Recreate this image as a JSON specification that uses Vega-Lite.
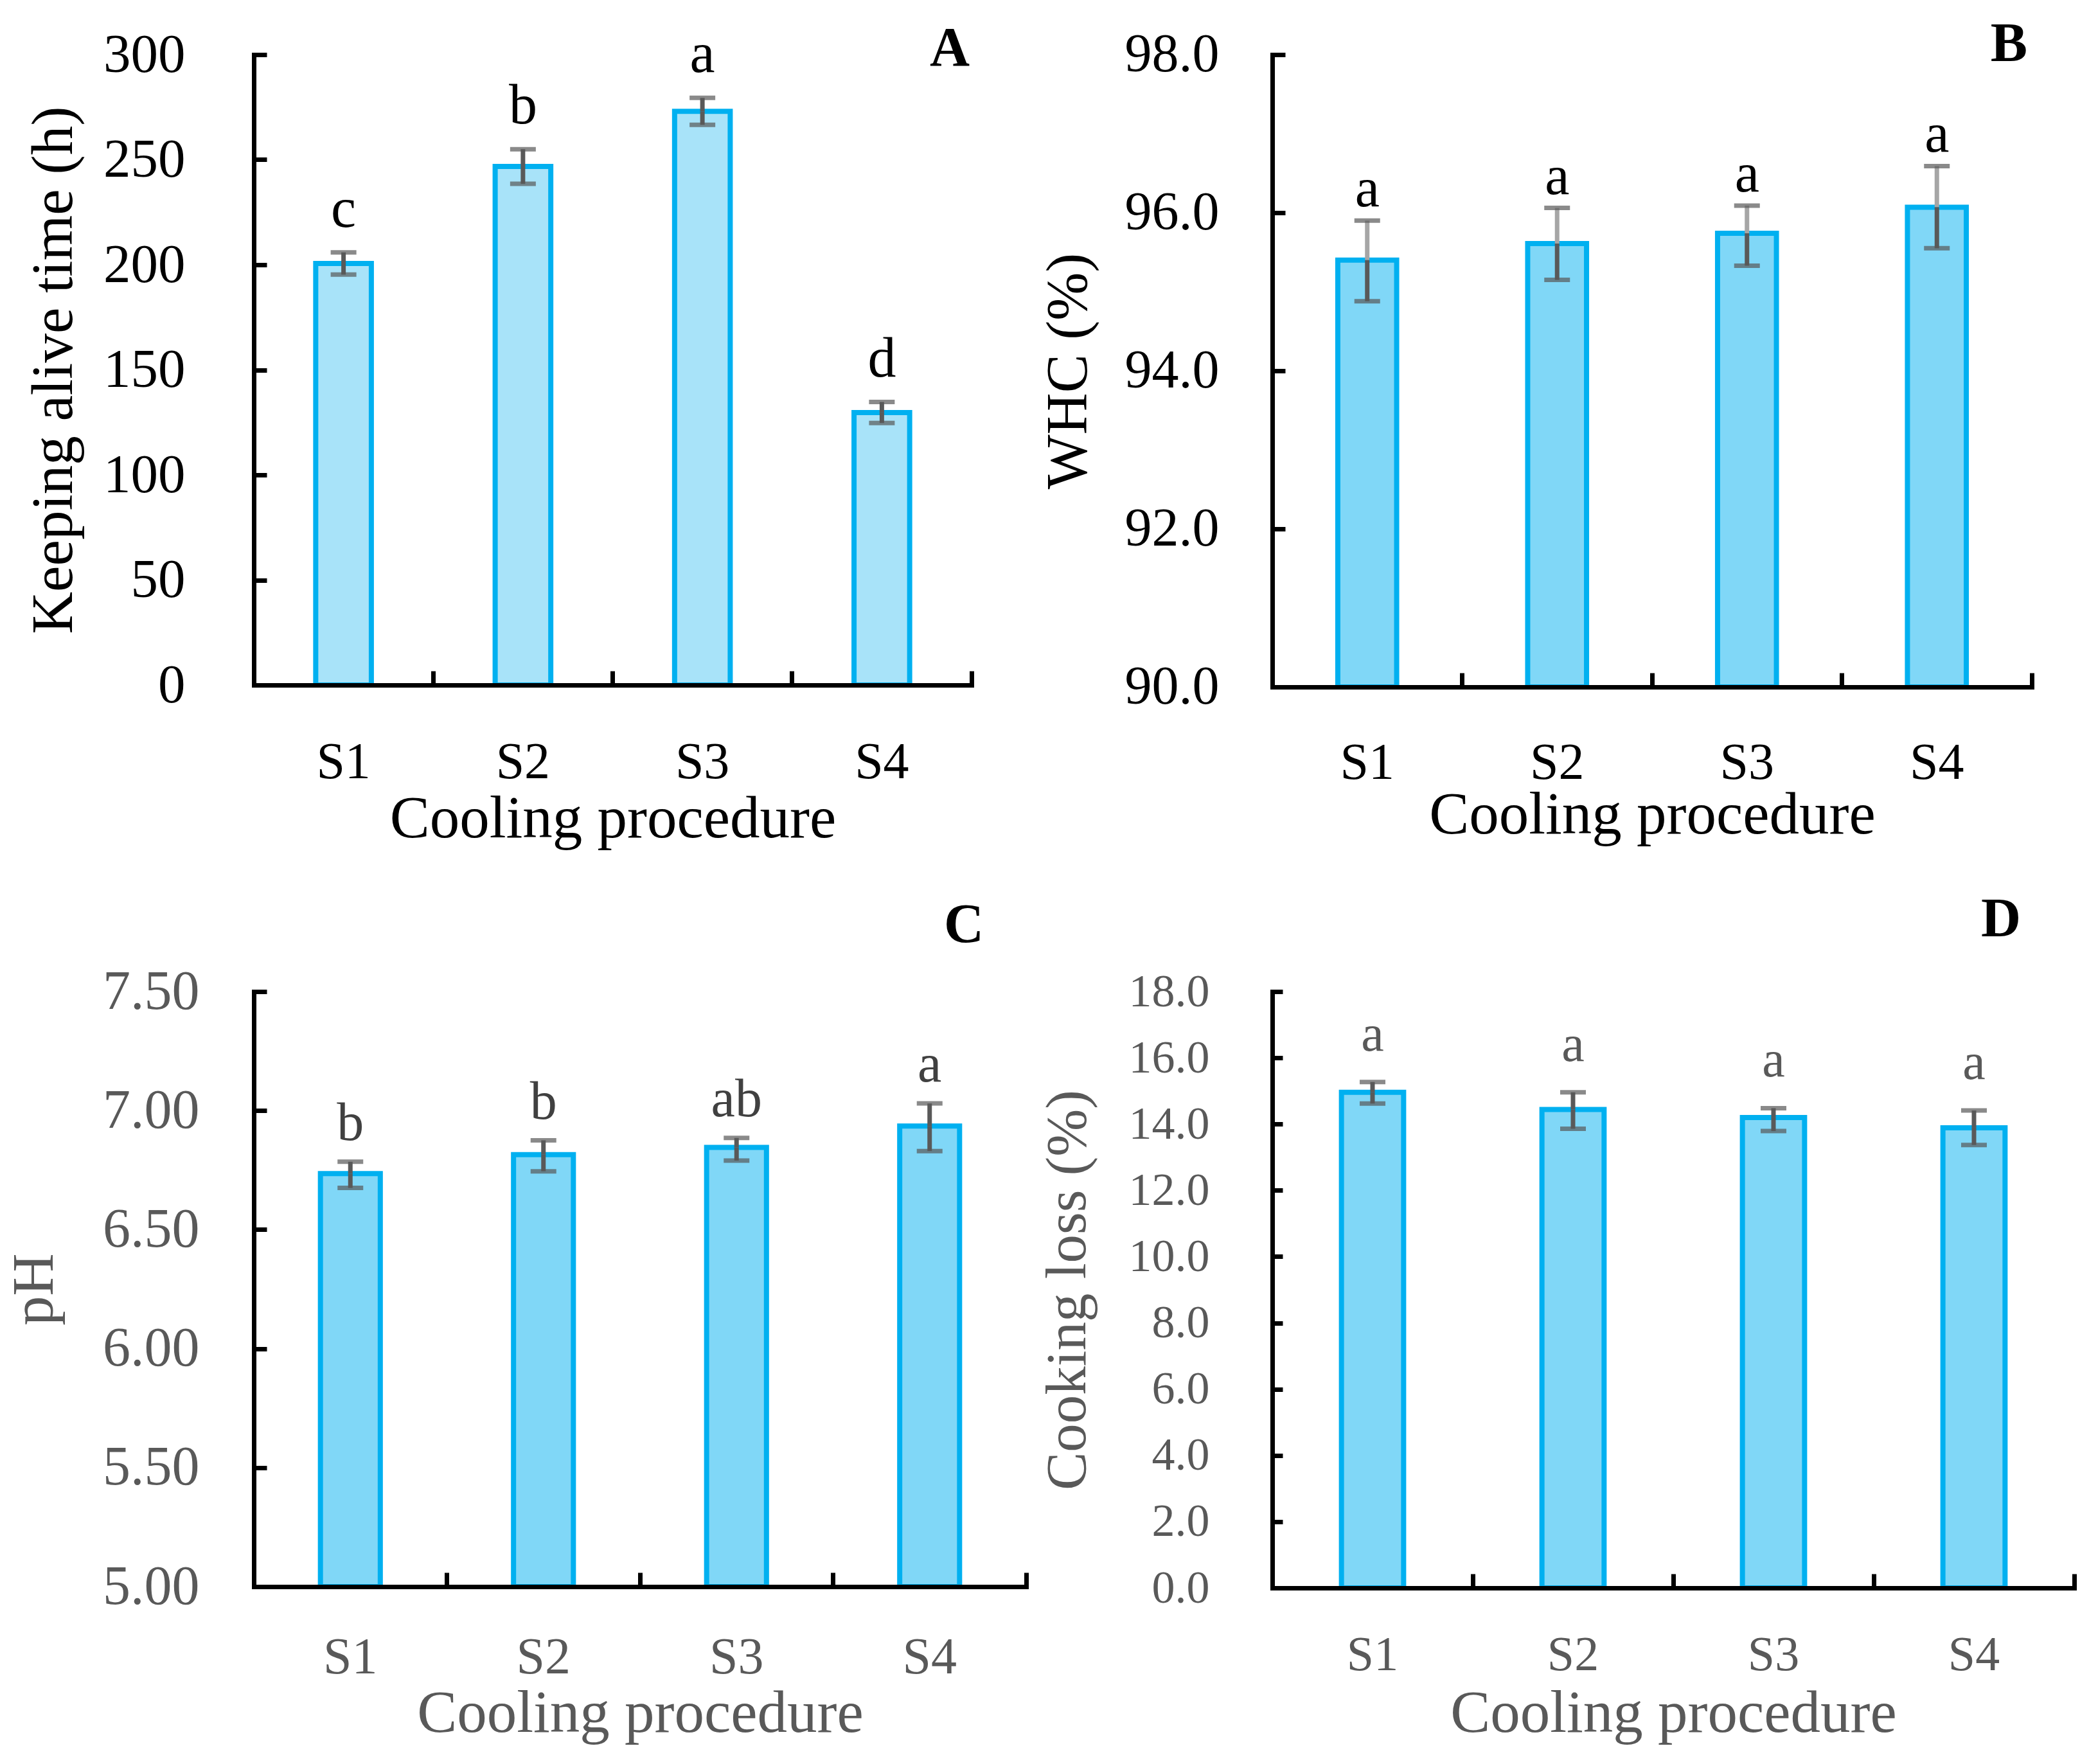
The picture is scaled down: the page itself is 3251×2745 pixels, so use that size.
{
  "$schema": "https://vega.github.io/schema/vega-lite/v6.json",
  "background": "white",
  "padding": {"left": 7, "top": 26, "right": 10, "bottom": 10},
  "config": {
    "view": {"stroke": null},
    "font": "Liberation Serif",
    "axis": {"grid": false, "labelFont": "Liberation Serif", "titleFont": "Liberation Serif"},
    "title": {"font": "Liberation Serif"},
    "text": {"font": "Liberation Serif"}
  },
  "datasets": {
    "A": [
      {"procedure": "S1", "mean": 200.6, "lower": 195.3, "upper": 205.9, "letter": "c"},
      {"procedure": "S2", "mean": 246.8, "lower": 238.5, "upper": 255.0, "letter": "b"},
      {"procedure": "S3", "mean": 273.0, "lower": 266.6, "upper": 279.4, "letter": "a"},
      {"procedure": "S4", "mean": 129.7, "lower": 124.7, "upper": 134.7, "letter": "d"}
    ],
    "B": [
      {"procedure": "S1", "mean": 95.40, "lower": 94.88, "upper": 95.90, "letter": "a"},
      {"procedure": "S2", "mean": 95.61, "lower": 95.15, "upper": 96.06, "letter": "a"},
      {"procedure": "S3", "mean": 95.74, "lower": 95.33, "upper": 96.09, "letter": "a"},
      {"procedure": "S4", "mean": 96.07, "lower": 95.55, "upper": 96.59, "letter": "a"}
    ],
    "C": [
      {"procedure": "S1", "mean": 6.735, "lower": 6.675, "upper": 6.785, "letter": "b"},
      {"procedure": "S2", "mean": 6.815, "lower": 6.745, "upper": 6.875, "letter": "b"},
      {"procedure": "S3", "mean": 6.845, "lower": 6.79, "upper": 6.885, "letter": "ab"},
      {"procedure": "S4", "mean": 6.935, "lower": 6.83, "upper": 7.03, "letter": "a"}
    ],
    "D": [
      {"procedure": "S1", "mean": 14.96, "lower": 14.62, "upper": 15.27, "letter": "a"},
      {"procedure": "S2", "mean": 14.44, "lower": 13.86, "upper": 14.96, "letter": "a"},
      {"procedure": "S3", "mean": 14.20, "lower": 13.79, "upper": 14.48, "letter": "a"},
      {"procedure": "S4", "mean": 13.89, "lower": 13.37, "upper": 14.41, "letter": "a"}
    ]
  },
  "columns": 2,
  "align": "each",
  "bounds": "flush",
  "spacing": {"row": 474, "column": 383},
  "concat": [
    {
      "width": 1117,
      "height": 981,
      "title": {"text": "A", "anchor": "end", "frame": "group", "fontSize": 86, "fontWeight": "bold", "color": "black", "baseline": "alphabetic", "offset": -146, "dx": -3},
      "data": {"name": "A"},
      "resolve": {"axis": {"x": "independent", "y": "independent"}},
      "layer": [
        {
          "mark": {"type": "bar", "fill": "#A8E3F9", "stroke": "#00B0F0", "strokeWidth": 8, "width": {"band": 0.31}},
          "encoding": {
            "x": {"field": "procedure", "type": "nominal", "sort": null, "scale": {"type": "band", "paddingInner": 0, "paddingOuter": 0},
              "axis": {"orient": "bottom", "zindex": 1, "ticks": false, "domain": true, "domainColor": "black", "domainWidth": 7, "domainCap": "square", "labelAngle": 0, "labelFontSize": 80, "labelColor": "black", "labelBaseline": "alphabetic", "labelPadding": 144, "minExtent": 160, "maxExtent": 160, "title": "Cooling procedure", "titleFontSize": 93, "titleFontWeight": "normal", "titleColor": "black", "titleBaseline": "alphabetic", "titlePadding": 76}},
            "y": {"field": "mean", "type": "quantitative", "scale": {"domain": [0, 300], "nice": false, "zero": false},
              "axis": {"orient": "left", "zindex": 1, "values": [0, 50, 100, 150, 200, 250, 300], "format": "d", "ticks": false, "domain": true, "domainColor": "black", "domainWidth": 7, "domainCap": "square", "labelFontSize": 85, "labelColor": "black", "labelPadding": 107, "labelOverlap": false, "minExtent": 235, "maxExtent": 235, "title": "Keeping alive time (h)", "titleFontSize": 91, "titleFontWeight": "normal", "titleColor": "black", "titleBaseline": "alphabetic", "titlePadding": 49}}
          }
        },
        {
          "mark": {"type": "rule", "color": "#595959", "strokeWidth": 7},
          "encoding": {
            "x": {"field": "procedure", "type": "nominal", "sort": null, "scale": {"type": "band", "paddingInner": 0, "paddingOuter": 0},
              "axis": {"orient": "bottom", "zindex": 1, "bandPosition": 1, "labels": false, "domain": false, "ticks": true, "tickSize": -22, "tickWidth": 7, "tickColor": "black", "title": null}},
            "y": {"field": "mean", "type": "quantitative", "scale": {"domain": [0, 300], "nice": false, "zero": false},
              "axis": {"orient": "left", "zindex": 1, "values": [0, 50, 100, 150, 200, 250, 300], "labels": false, "domain": false, "ticks": true, "tickSize": -20, "tickWidth": 7, "tickColor": "black", "title": null}},
            "y2": {"field": "upper"}
          }
        },
        {
          "mark": {"type": "rule", "color": "#595959", "strokeWidth": 7},
          "encoding": {
            "x": {"field": "procedure", "type": "nominal", "sort": null, "scale": {"type": "band", "paddingInner": 0, "paddingOuter": 0}, "axis": null},
            "y": {"field": "lower", "type": "quantitative", "scale": {"domain": [0, 300], "nice": false, "zero": false}, "axis": null},
            "y2": {"field": "mean"}
          }
        },
        {
          "mark": {"type": "tick", "color": "#595959", "thickness": 7, "size": 40},
          "encoding": {
            "x": {"field": "procedure", "type": "nominal", "sort": null, "scale": {"type": "band", "paddingInner": 0, "paddingOuter": 0}, "axis": null},
            "y": {"field": "upper", "type": "quantitative", "scale": {"domain": [0, 300], "nice": false, "zero": false}, "axis": null}
          }
        },
        {
          "mark": {"type": "tick", "color": "#595959", "thickness": 7, "size": 40},
          "encoding": {
            "x": {"field": "procedure", "type": "nominal", "sort": null, "scale": {"type": "band", "paddingInner": 0, "paddingOuter": 0}, "axis": null},
            "y": {"field": "lower", "type": "quantitative", "scale": {"domain": [0, 300], "nice": false, "zero": false}, "axis": null}
          }
        },
        {
          "mark": {"type": "text", "baseline": "alphabetic", "dy": -40, "fontSize": 88, "color": "black"},
          "encoding": {
            "x": {"field": "procedure", "type": "nominal", "sort": null, "scale": {"type": "band", "paddingInner": 0, "paddingOuter": 0}, "axis": null},
            "y": {"field": "upper", "type": "quantitative", "scale": {"domain": [0, 300], "nice": false, "zero": false}, "axis": null},
            "text": {"field": "letter"}
          }
        }
      ]
    },
    {
      "width": 1182,
      "height": 984,
      "title": {"text": "B", "anchor": "end", "frame": "group", "fontSize": 86, "fontWeight": "bold", "color": "black", "baseline": "alphabetic", "offset": -138, "dx": -7},
      "data": {"name": "B"},
      "resolve": {"axis": {"x": "independent", "y": "independent"}},
      "layer": [
        {
          "mark": {"type": "bar", "fill": "#80D7F7", "stroke": "#00B0F0", "strokeWidth": 8, "width": {"band": 0.31}},
          "encoding": {
            "x": {"field": "procedure", "type": "nominal", "sort": null, "scale": {"type": "band", "paddingInner": 0, "paddingOuter": 0},
              "axis": {"orient": "bottom", "zindex": 1, "ticks": false, "domain": true, "domainColor": "black", "domainWidth": 7, "domainCap": "square", "labelAngle": 0, "labelFontSize": 80, "labelColor": "black", "labelBaseline": "alphabetic", "labelPadding": 142, "minExtent": 160, "maxExtent": 160, "title": "Cooling procedure", "titleFontSize": 93, "titleFontWeight": "normal", "titleColor": "black", "titleBaseline": "alphabetic", "titlePadding": 67}},
            "y": {"field": "mean", "type": "quantitative", "scale": {"domain": [90, 98], "nice": false, "zero": false},
              "axis": {"orient": "left", "zindex": 1, "values": [90, 92, 94, 96, 98], "format": ".1f", "ticks": false, "domain": true, "domainColor": "black", "domainWidth": 7, "domainCap": "square", "labelFontSize": 84, "labelColor": "black", "labelPadding": 83, "labelOverlap": false, "minExtent": 230, "maxExtent": 230, "title": "WHC (%)", "titleFontSize": 90, "titleFontWeight": "normal", "titleColor": "black", "titleBaseline": "alphabetic", "titlePadding": 60}},
            "y2": {"datum": 90}
          }
        },
        {
          "mark": {"type": "rule", "color": "#A6A6A6", "strokeWidth": 7},
          "encoding": {
            "x": {"field": "procedure", "type": "nominal", "sort": null, "scale": {"type": "band", "paddingInner": 0, "paddingOuter": 0},
              "axis": {"orient": "bottom", "zindex": 1, "bandPosition": 1, "labels": false, "domain": false, "ticks": true, "tickSize": -22, "tickWidth": 7, "tickColor": "black", "title": null}},
            "y": {"field": "mean", "type": "quantitative", "scale": {"domain": [90, 98], "nice": false, "zero": false},
              "axis": {"orient": "left", "zindex": 1, "values": [90, 92, 94, 96, 98], "labels": false, "domain": false, "ticks": true, "tickSize": -20, "tickWidth": 7, "tickColor": "black", "title": null}},
            "y2": {"field": "upper"}
          }
        },
        {
          "mark": {"type": "rule", "color": "#595959", "strokeWidth": 7},
          "encoding": {
            "x": {"field": "procedure", "type": "nominal", "sort": null, "scale": {"type": "band", "paddingInner": 0, "paddingOuter": 0}, "axis": null},
            "y": {"field": "lower", "type": "quantitative", "scale": {"domain": [90, 98], "nice": false, "zero": false}, "axis": null},
            "y2": {"field": "mean"}
          }
        },
        {
          "mark": {"type": "tick", "color": "#595959", "thickness": 7, "size": 40},
          "encoding": {
            "x": {"field": "procedure", "type": "nominal", "sort": null, "scale": {"type": "band", "paddingInner": 0, "paddingOuter": 0}, "axis": null},
            "y": {"field": "upper", "type": "quantitative", "scale": {"domain": [90, 98], "nice": false, "zero": false}, "axis": null}
          }
        },
        {
          "mark": {"type": "tick", "color": "#595959", "thickness": 7, "size": 40},
          "encoding": {
            "x": {"field": "procedure", "type": "nominal", "sort": null, "scale": {"type": "band", "paddingInner": 0, "paddingOuter": 0}, "axis": null},
            "y": {"field": "lower", "type": "quantitative", "scale": {"domain": [90, 98], "nice": false, "zero": false}, "axis": null}
          }
        },
        {
          "mark": {"type": "text", "baseline": "alphabetic", "dy": -22, "fontSize": 86, "color": "black"},
          "encoding": {
            "x": {"field": "procedure", "type": "nominal", "sort": null, "scale": {"type": "band", "paddingInner": 0, "paddingOuter": 0}, "axis": null},
            "y": {"field": "upper", "type": "quantitative", "scale": {"domain": [90, 98], "nice": false, "zero": false}, "axis": null},
            "text": {"field": "letter"}
          }
        }
      ]
    },
    {
      "width": 1202,
      "height": 926,
      "title": {"text": "C", "anchor": "end", "frame": "group", "fontSize": 86, "fontWeight": "bold", "color": "black", "baseline": "alphabetic", "offset": -52, "dx": -66},
      "data": {"name": "C"},
      "resolve": {"axis": {"x": "independent", "y": "independent"}},
      "layer": [
        {
          "mark": {"type": "bar", "fill": "#80D7F7", "stroke": "#00B0F0", "strokeWidth": 8, "width": {"band": 0.31}},
          "encoding": {
            "x": {"field": "procedure", "type": "nominal", "sort": null, "scale": {"type": "band", "paddingInner": 0, "paddingOuter": 0},
              "axis": {"orient": "bottom", "zindex": 1, "ticks": false, "domain": true, "domainColor": "black", "domainWidth": 7, "domainCap": "square", "labelAngle": 0, "labelFontSize": 80, "labelColor": "#595959", "labelBaseline": "alphabetic", "labelPadding": 134, "minExtent": 160, "maxExtent": 160, "title": "Cooling procedure", "titleFontSize": 93, "titleFontWeight": "normal", "titleColor": "#595959", "titleBaseline": "alphabetic", "titlePadding": 65}},
            "y": {"field": "mean", "type": "quantitative", "scale": {"domain": [5, 7.5], "nice": false, "zero": false},
              "axis": {"orient": "left", "zindex": 1, "values": [5, 5.5, 6, 6.5, 7, 7.5], "format": ".2f", "ticks": false, "domain": true, "domainColor": "black", "domainWidth": 7, "domainCap": "square", "labelFontSize": 86, "labelColor": "#595959", "labelPadding": 85, "labelOverlap": false, "minExtent": 235, "maxExtent": 235, "title": "pH", "titleFontSize": 92, "titleFontWeight": "normal", "titleColor": "#595959", "titleBaseline": "alphabetic", "titlePadding": 79}},
            "y2": {"datum": 5}
          }
        },
        {
          "mark": {"type": "rule", "color": "#595959", "strokeWidth": 7},
          "encoding": {
            "x": {"field": "procedure", "type": "nominal", "sort": null, "scale": {"type": "band", "paddingInner": 0, "paddingOuter": 0},
              "axis": {"orient": "bottom", "zindex": 1, "bandPosition": 1, "labels": false, "domain": false, "ticks": true, "tickSize": -22, "tickWidth": 7, "tickColor": "black", "title": null}},
            "y": {"field": "mean", "type": "quantitative", "scale": {"domain": [5, 7.5], "nice": false, "zero": false},
              "axis": {"orient": "left", "zindex": 1, "values": [5, 5.5, 6, 6.5, 7, 7.5], "labels": false, "domain": false, "ticks": true, "tickSize": -20, "tickWidth": 7, "tickColor": "black", "title": null}},
            "y2": {"field": "upper"}
          }
        },
        {
          "mark": {"type": "rule", "color": "#595959", "strokeWidth": 7},
          "encoding": {
            "x": {"field": "procedure", "type": "nominal", "sort": null, "scale": {"type": "band", "paddingInner": 0, "paddingOuter": 0}, "axis": null},
            "y": {"field": "lower", "type": "quantitative", "scale": {"domain": [5, 7.5], "nice": false, "zero": false}, "axis": null},
            "y2": {"field": "mean"}
          }
        },
        {
          "mark": {"type": "tick", "color": "#595959", "thickness": 7, "size": 40},
          "encoding": {
            "x": {"field": "procedure", "type": "nominal", "sort": null, "scale": {"type": "band", "paddingInner": 0, "paddingOuter": 0}, "axis": null},
            "y": {"field": "upper", "type": "quantitative", "scale": {"domain": [5, 7.5], "nice": false, "zero": false}, "axis": null}
          }
        },
        {
          "mark": {"type": "tick", "color": "#595959", "thickness": 7, "size": 40},
          "encoding": {
            "x": {"field": "procedure", "type": "nominal", "sort": null, "scale": {"type": "band", "paddingInner": 0, "paddingOuter": 0}, "axis": null},
            "y": {"field": "lower", "type": "quantitative", "scale": {"domain": [5, 7.5], "nice": false, "zero": false}, "axis": null}
          }
        },
        {
          "mark": {"type": "text", "baseline": "alphabetic", "dy": -34, "fontSize": 84, "color": "#404040"},
          "encoding": {
            "x": {"field": "procedure", "type": "nominal", "sort": null, "scale": {"type": "band", "paddingInner": 0, "paddingOuter": 0}, "axis": null},
            "y": {"field": "upper", "type": "quantitative", "scale": {"domain": [5, 7.5], "nice": false, "zero": false}, "axis": null},
            "text": {"field": "letter"}
          }
        }
      ]
    },
    {
      "width": 1248,
      "height": 928,
      "title": {"text": "D", "anchor": "end", "frame": "group", "fontSize": 86, "fontWeight": "bold", "color": "black", "baseline": "alphabetic", "offset": -36, "dx": -83},
      "data": {"name": "D"},
      "resolve": {"axis": {"x": "independent", "y": "independent"}},
      "layer": [
        {
          "mark": {"type": "bar", "fill": "#80D7F7", "stroke": "#00B0F0", "strokeWidth": 8, "width": {"band": 0.31}},
          "encoding": {
            "x": {"field": "procedure", "type": "nominal", "sort": null, "scale": {"type": "band", "paddingInner": 0, "paddingOuter": 0},
              "axis": {"orient": "bottom", "zindex": 1, "ticks": false, "domain": true, "domainColor": "black", "domainWidth": 7, "domainCap": "square", "labelAngle": 0, "labelFontSize": 76, "labelColor": "#595959", "labelBaseline": "alphabetic", "labelPadding": 127, "minExtent": 160, "maxExtent": 160, "title": "Cooling procedure", "titleFontSize": 93, "titleFontWeight": "normal", "titleColor": "#595959", "titleBaseline": "alphabetic", "titlePadding": 63}},
            "y": {"field": "mean", "type": "quantitative", "scale": {"domain": [0, 18], "nice": false, "zero": false},
              "axis": {"orient": "left", "zindex": 1, "values": [0, 2, 4, 6, 8, 10, 12, 14, 16, 18], "format": ".1f", "ticks": false, "domain": true, "domainColor": "black", "domainWidth": 7, "domainCap": "square", "labelFontSize": 72, "labelColor": "#595959", "labelPadding": 98, "labelOverlap": false, "minExtent": 224, "maxExtent": 224, "title": "Cooking loss (%)", "titleFontSize": 89, "titleFontWeight": "normal", "titleColor": "#595959", "titleBaseline": "alphabetic", "titlePadding": 68}}
          }
        },
        {
          "mark": {"type": "rule", "color": "#595959", "strokeWidth": 7},
          "encoding": {
            "x": {"field": "procedure", "type": "nominal", "sort": null, "scale": {"type": "band", "paddingInner": 0, "paddingOuter": 0},
              "axis": {"orient": "bottom", "zindex": 1, "bandPosition": 1, "labels": false, "domain": false, "ticks": true, "tickSize": -22, "tickWidth": 7, "tickColor": "black", "title": null}},
            "y": {"field": "mean", "type": "quantitative", "scale": {"domain": [0, 18], "nice": false, "zero": false},
              "axis": {"orient": "left", "zindex": 1, "values": [0, 2, 4, 6, 8, 10, 12, 14, 16, 18], "labels": false, "domain": false, "ticks": true, "tickSize": -16, "tickWidth": 7, "tickColor": "black", "title": null}},
            "y2": {"field": "upper"}
          }
        },
        {
          "mark": {"type": "rule", "color": "#595959", "strokeWidth": 7},
          "encoding": {
            "x": {"field": "procedure", "type": "nominal", "sort": null, "scale": {"type": "band", "paddingInner": 0, "paddingOuter": 0}, "axis": null},
            "y": {"field": "lower", "type": "quantitative", "scale": {"domain": [0, 18], "nice": false, "zero": false}, "axis": null},
            "y2": {"field": "mean"}
          }
        },
        {
          "mark": {"type": "tick", "color": "#595959", "thickness": 7, "size": 40},
          "encoding": {
            "x": {"field": "procedure", "type": "nominal", "sort": null, "scale": {"type": "band", "paddingInner": 0, "paddingOuter": 0}, "axis": null},
            "y": {"field": "upper", "type": "quantitative", "scale": {"domain": [0, 18], "nice": false, "zero": false}, "axis": null}
          }
        },
        {
          "mark": {"type": "tick", "color": "#595959", "thickness": 7, "size": 40},
          "encoding": {
            "x": {"field": "procedure", "type": "nominal", "sort": null, "scale": {"type": "band", "paddingInner": 0, "paddingOuter": 0}, "axis": null},
            "y": {"field": "lower", "type": "quantitative", "scale": {"domain": [0, 18], "nice": false, "zero": false}, "axis": null}
          }
        },
        {
          "mark": {"type": "text", "baseline": "alphabetic", "dy": -49, "fontSize": 80, "color": "#595959"},
          "encoding": {
            "x": {"field": "procedure", "type": "nominal", "sort": null, "scale": {"type": "band", "paddingInner": 0, "paddingOuter": 0}, "axis": null},
            "y": {"field": "upper", "type": "quantitative", "scale": {"domain": [0, 18], "nice": false, "zero": false}, "axis": null},
            "text": {"field": "letter"}
          }
        }
      ]
    }
  ]
}
